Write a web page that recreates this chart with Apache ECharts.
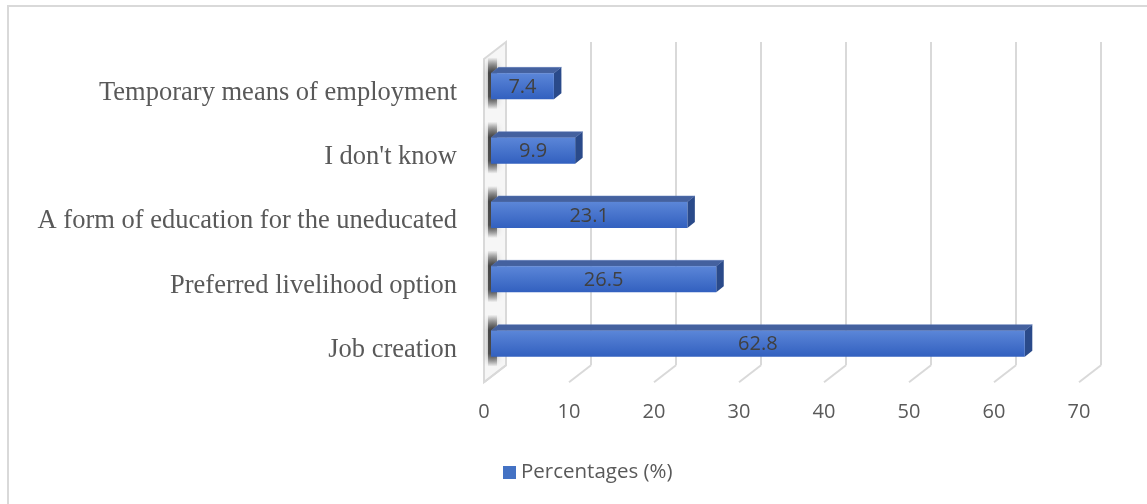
<!DOCTYPE html>
<html>
<head>
<meta charset="utf-8">
<script src="https://cdn.jsdelivr.net/npm/echarts@6/dist/echarts.min.js"></script>
<style>
html,body{margin:0;padding:0;background:#fff;}
#chart{width:1147px;height:504px;}
</style>
</head>
<body>
<div id="chart"></div>
<script>
const categories = ['Job creation', 'Preferred livelihood option', 'A form of education for the uneducated', "I don't know", 'Temporary means of employment'];
const values = [62.8, 26.5, 23.1, 9.9, 7.4];
const xTicks = [0, 10, 20, 30, 40, 50, 60, 70];
const seriesName = 'Percentages (%)';

const chart = echarts.init(document.getElementById('chart'));

const DX = 7.5, DY = 6, H = 26, OFF = 6.5;

function gridItem(params, api) {
  const v = api.value(0);
  const cs = params.coordSys;
  const p = api.coord([v, 0]);
  const bx = p[0] + 15, fx = p[0] - 7;
  const yTop = 42, yBack = cs.y + cs.height - 17, yFront = cs.y + cs.height;
  const st = { stroke: '#d9d9d9', lineWidth: 2, fill: null };
  const children = [
    { type: 'line', shape: { x1: bx, y1: yTop, x2: bx, y2: yBack }, style: st },
    { type: 'line', shape: { x1: bx, y1: yBack, x2: fx, y2: yFront }, style: st }
  ];
  if (v === 0) {
    children.unshift({ type: 'polygon', shape: { points: [[fx, yTop + 17], [bx, yTop], [bx, yBack], [fx, yFront]] },
      style: { fill: '#f6f6f6', stroke: '#d9d9d9', lineWidth: 2 } });
  }
  return { type: 'group', children };
}

function barItem(params, api) {
  const v = api.value(0), c = api.value(1);
  const p0 = api.coord([0, c]);
  const p1 = api.coord([v, c]);
  const x0 = p0[0], x1 = p1[0];
  const cy = p0[1];
  const t = cy - OFF - H / 2, b = cy - OFF + H / 2;
  return {
    type: 'group',
    children: [
      { type: 'rect', shape: { x: x0 - 3, y: t - 16, width: 9, height: H + 26 },
        style: { fill: new echarts.graphic.LinearGradient(0, 0, 0, 1, [
          { offset: 0, color: 'rgba(0,0,0,0)' }, { offset: 0.3, color: 'rgba(30,30,30,0.75)' },
          { offset: 0.75, color: 'rgba(30,30,30,0.7)' }, { offset: 1, color: 'rgba(0,0,0,0)' }]),
          shadowBlur: 6, shadowColor: 'rgba(0,0,0,0.5)' } },
      { type: 'polygon', shape: { points: [[x0, t], [x0 + DX, t - DY], [x1 + DX, t - DY], [x1, t]] },
        style: { fill: '#44619f', stroke: '#5a78b8', lineWidth: 0.5 } },
      { type: 'polygon', shape: { points: [[x1, t], [x1 + DX, t - DY], [x1 + DX, b - DY], [x1, b]] },
        style: { fill: '#2a4a8a' } },
      { type: 'rect', shape: { x: x0, y: t, width: x1 - x0, height: H },
        style: { fill: new echarts.graphic.LinearGradient(0, 0, 0, 1, [
          { offset: 0, color: '#5b86d8' }, { offset: 1, color: '#3260bf' }]) } },
      { type: 'text', style: { text: String(v), x: (x0 + x1) / 2, y: cy - OFF + 1, align: 'center', verticalAlign: 'middle',
          fill: '#404040', fontSize: 20, fontFamily: 'Open Sans' } }
    ]
  };
}

chart.setOption({
  animation: false,
  graphic: [{ type: 'rect', shape: { x: 8, y: 6, width: 1160, height: 520 }, style: { fill: null, stroke: '#d9d9d9', lineWidth: 2 }, z: -10 }],
  grid: { left: 491, right: 61, top: 60.7, bottom: 121.7 },
  legend: { data: [seriesName], left: 498, top: 457, itemWidth: 13, itemHeight: 13, itemGap: 4, icon: 'rect',
    textStyle: { color: '#595959', fontSize: 20.5, fontFamily: 'Open Sans' } },
  xAxis: { type: 'value', min: 0, max: 70, interval: 10,
    axisLine: { show: false }, axisTick: { show: false }, splitLine: { show: false },
    axisLabel: { color: '#595959', fontSize: 20, fontFamily: 'Open Sans', margin: 20, padding: [0, 14, 0, 0],
      formatter: v => xTicks.includes(v) ? String(v) : '' } },
  yAxis: { type: 'category', data: categories,
    axisLine: { show: false }, axisTick: { show: false }, splitLine: { show: false },
    axisLabel: { color: '#595959', fontSize: 26.5, fontFamily: 'Liberation Serif', margin: 34 } },
  series: [
    { type: 'custom', name: 'grid', silent: true, clip: false, z: 1, renderItem: gridItem,
      data: xTicks.map(v => [v, 0]), encode: { x: 0, y: 1 } },
    { type: 'custom', name: seriesName, clip: false, z: 5, renderItem: barItem, itemStyle: { color: '#4472c4' },
      data: values.map((v, i) => [v, i]), encode: { x: 0, y: 1 } }
  ]
});
</script>
</body>
</html>
